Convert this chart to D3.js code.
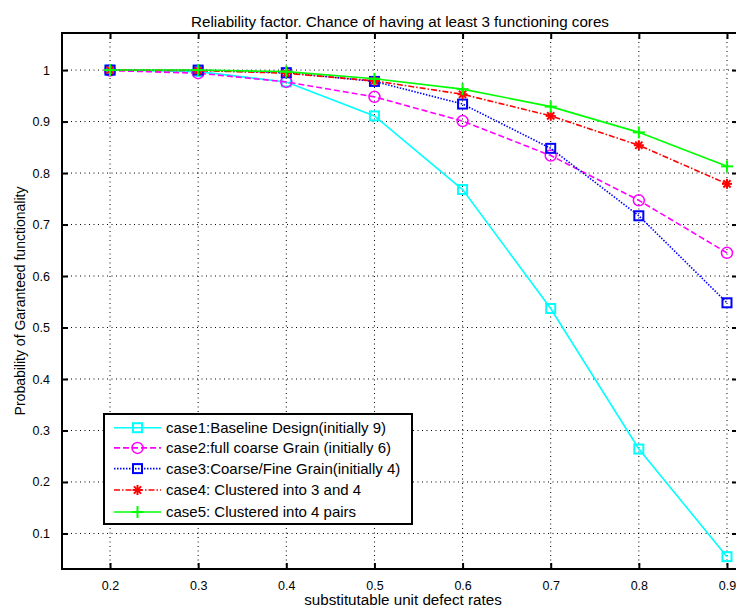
<!DOCTYPE html>
<html><head><meta charset="utf-8">
<script src="https://cdn.jsdelivr.net/npm/d3@7"></script>
<style>
html,body{margin:0;padding:0;background:#fff;}
svg{display:block;font-family:"Liberation Sans",Arial,Helvetica,sans-serif;}
</style></head>
<body><svg id="c" width="736" height="609"></svg>
<script>
const xValues = [0.2, 0.3, 0.4, 0.5, 0.6, 0.7, 0.8, 0.9];
const case1 = [1.000, 0.997, 0.977, 0.911, 0.768, 0.537, 0.264, 0.055];
const case2 = [0.999, 0.994, 0.977, 0.948, 0.901, 0.834, 0.747, 0.645];
const case3 = [1.000, 1.000, 0.995, 0.978, 0.934, 0.848, 0.717, 0.548];
const case4 = [1.000, 0.999, 0.994, 0.979, 0.953, 0.911, 0.854, 0.779];
const case5 = [1.000, 1.000, 0.997, 0.983, 0.963, 0.929, 0.879, 0.813];
const seriesNames = [
  "case1:Baseline Design(initially 9)",
  "case2:full coarse Grain (initially 6)",
  "case3:Coarse/Fine Grain(initially 4)",
  "case4: Clustered into 3 and 4",
  "case5: Clustered into 4 pairs"
];
const xTicks = [0.2, 0.3, 0.4, 0.5, 0.6, 0.7, 0.8, 0.9];
const yTicks = [0.1, 0.2, 0.3, 0.4, 0.5, 0.6, 0.7, 0.8, 0.9, 1];
const titleText = "Reliability factor. Chance of having at least 3 functioning cores";
const xLabelText = "substitutable unit defect rates";
const yLabelText = "Probability of Garanteed functionality";

const styles = [
  {color:"#00ffff", dash:null, marker:"square"},
  {color:"#ff00ff", dash:"6,3", marker:"circle"},
  {color:"#0000ff", dash:"1.5,1.5", marker:"square"},
  {color:"#ff0000", dash:"6,2,1.5,2", marker:"star"},
  {color:"#00ff00", dash:null, marker:"plus"}
];
const allSeries = [case1, case2, case3, case4, case5];

const L = 62, T = 33, R = 738, B = 569;
const svg = d3.select("#c");
const x = d3.scaleLinear().domain([0.1455, 0.9125]).range([L, R]);
const y = d3.scaleLinear().domain([0.031, 1.072]).range([B, T]);

// grid
const g = svg.append("g");
g.selectAll(".vg").data(xTicks).join("line")
  .attr("x1", d => x(d)).attr("x2", d => x(d)).attr("y1", T).attr("y2", B)
  .attr("stroke", "#000").attr("stroke-width", 1).attr("stroke-dasharray", "1,3.5");
g.selectAll(".hg").data(yTicks).join("line")
  .attr("y1", d => y(d)).attr("y2", d => y(d)).attr("x1", L).attr("x2", R)
  .attr("stroke", "#000").attr("stroke-width", 1).attr("stroke-dasharray", "1,3.5");

// axes with inward ticks
const xb = d3.axisBottom(x).tickValues(xTicks).tickSize(-6).tickPadding(12).tickFormat(d3.format(".1f"));
const xt = d3.axisTop(x).tickValues(xTicks).tickSize(-6).tickFormat("");
const yl = d3.axisLeft(y).tickValues(yTicks).tickSize(-6).tickPadding(12).tickFormat(d => d === 1 ? "1" : d3.format(".1f")(d));
const yr = d3.axisRight(y).tickValues(yTicks).tickSize(-6).tickFormat("");
function styleAxis(sel){
  sel.select(".domain").remove();
  sel.selectAll(".tick line").attr("stroke", "#000").attr("stroke-width", 2);
  sel.selectAll(".tick text").attr("fill", "#000").style("font-size", "12.5px").style("font-family", "'Liberation Sans',Arial,sans-serif");
}
svg.append("g").attr("transform", `translate(0,${B})`).call(xb).call(styleAxis);
svg.append("g").attr("transform", `translate(0,${T})`).call(xt).call(styleAxis);
svg.append("g").attr("transform", `translate(${L},0)`).call(yl).call(styleAxis);
svg.append("g").attr("transform", `translate(${R},0)`).call(yr).call(styleAxis);

// lines
const line = d3.line().x((d, i) => x(xValues[i])).y(d => y(d));
function drawMarker(sel, type, color, cx, cy){
  if (type === "square") {
    sel.append("rect").attr("x", cx - 4.5).attr("y", cy - 4.5).attr("width", 9).attr("height", 9)
      .attr("fill", "none").attr("stroke", color).attr("stroke-width", 2);
  } else if (type === "circle") {
    sel.append("circle").attr("cx", cx).attr("cy", cy).attr("r", 5.5)
      .attr("fill", "none").attr("stroke", color).attr("stroke-width", 1.5);
  } else if (type === "star") {
    const r = 5;
    [[r,0],[0,r],[r*0.72,r*0.72],[r*0.72,-r*0.72]].forEach(([dx,dy]) => {
      sel.append("line").attr("x1", cx-dx).attr("y1", cy-dy).attr("x2", cx+dx).attr("y2", cy+dy)
        .attr("stroke", color).attr("stroke-width", 2);
    });
  } else if (type === "plus") {
    const r = 6;
    sel.append("line").attr("x1", cx-r).attr("x2", cx+r).attr("y1", cy).attr("y2", cy).attr("stroke", color).attr("stroke-width", 2);
    sel.append("line").attr("x1", cx).attr("x2", cx).attr("y1", cy-r).attr("y2", cy+r).attr("stroke", color).attr("stroke-width", 2);
  }
}
const plot = svg.append("g");
allSeries.forEach((vals, si) => {
  const st = styles[si];
  const gg = plot.append("g");
  gg.append("path").datum(vals).attr("d", line).attr("fill", "none")
    .attr("stroke", st.color).attr("stroke-width", 1.6)
    .attr("stroke-dasharray", st.dash);
  vals.forEach((v, i) => drawMarker(gg, st.marker, st.color, x(xValues[i]), y(v)));
});

// box
svg.append("rect").attr("x", L).attr("y", T).attr("width", R - L).attr("height", B - T)
  .attr("fill", "none").attr("stroke", "#000").attr("stroke-width", 2);

// legend
const lg = svg.append("g");
const lx = 104, ly = 414, lw = 308, lh = 110;
lg.append("rect").attr("x", lx).attr("y", ly).attr("width", lw).attr("height", lh)
  .attr("fill", "#fff").attr("stroke", "#000").attr("stroke-width", 2);
const rowY = [427.7, 447.9, 468.6, 490, 512];
seriesNames.forEach((name, i) => {
  const st = styles[i];
  const yy = rowY[i];
  lg.append("line").attr("x1", 114).attr("x2", 161).attr("y1", yy).attr("y2", yy)
    .attr("stroke", st.color).attr("stroke-width", 1.6).attr("stroke-dasharray", st.dash);
  drawMarker(lg, st.marker, st.color, 137.5, yy);
  lg.append("text").attr("x", 166).attr("y", yy).attr("dy", "0.36em")
    .style("font-size", "15px").attr("fill", "#000").text(name);
});

// titles
svg.append("text").attr("x", 400).attr("y", 22).attr("text-anchor", "middle").attr("dy", "0.36em")
  .style("font-size", "15.2px").text(titleText);
svg.append("text").attr("x", 403).attr("y", 600).attr("text-anchor", "middle").attr("dy", "0.36em")
  .style("font-size", "15.2px").text(xLabelText);
svg.append("text").attr("transform", `translate(20,${(T + B) / 2}) rotate(-90)`).attr("text-anchor", "middle").attr("dy", "0.36em")
  .style("font-size", "14px").text(yLabelText);
</script></body></html>
